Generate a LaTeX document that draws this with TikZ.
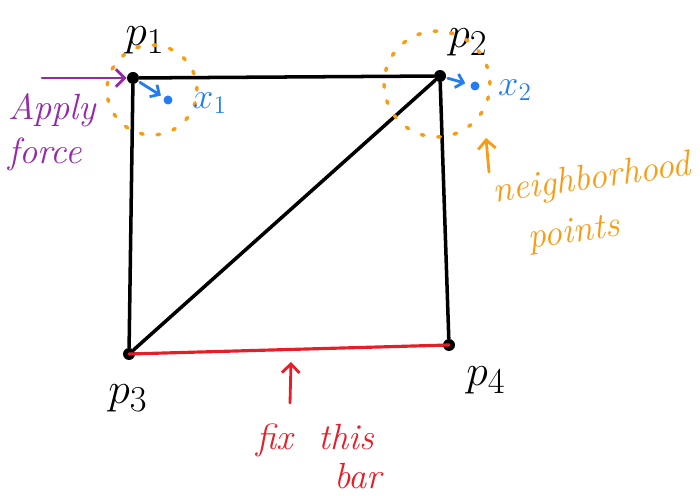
\documentclass[tikz,border=0pt]{standalone}
\usetikzlibrary{arrows.meta,positioning}
\definecolor{penBlue}{RGB}{35, 125, 240}
\definecolor{penOrange}{RGB}{250, 155, 20}
\definecolor{penPurple}{RGB}{150, 40, 170}
\definecolor{penRed}{RGB}{230, 30, 40}

\begin{document}
\begin{tikzpicture}[x=0.02cm, y=-0.02cm, line cap=round, line join=round,
    joint/.style={circle, fill=black, inner sep=0pt, minimum size=0.24cm},
    target/.style={circle, fill=penBlue, inner sep=0pt, minimum size=0.18cm},
    nbhd/.style={circle, draw=penOrange, line width=2pt, dash pattern=on 1.5pt off 8pt, inner sep=0pt},
    bar/.style={black, line width=2pt},
    note/.style={font=\huge\itshape, inner sep=1pt}]
    \useasboundingbox (0,0) rectangle (700,496);
    % the four joints
    \node[joint] (p1) at (133,78) {};
    \node[joint] (p2) at (440,76) {};
    \node[joint] (p3) at (129,354) {};
    \node[joint] (p4) at (449,345) {};
    \node[font=\Huge] (p1lab) at (145,40) {$p_1$};
    \node[font=\Huge] (p2lab) at (468,42) {$p_2$};
    \node[font=\Huge] (p3lab) at (128,398) {$p_3$};
    \node[font=\Huge] (p4lab) at (486,380) {$p_4$};
    % bars
    \draw[bar] (p1) -- (p2);
    \draw[bar] (p1) -- (p3);
    \draw[bar] (p2) -- (p4);
    \draw[bar] (p3) -- (p2);
    \draw[penRed, line width=1.8pt] (p3.center) -- (p4.center);
    % neighbourhoods
    \node[nbhd, minimum size=1.8cm] (n1) at (152,90) {};
    \node[nbhd, minimum size=2.12cm] (n2) at (437,84) {};
    \node[target] (x1) at (168,100) {};
    \node[target] (x2) at (475,86) {};
    \node[penBlue, font=\huge] (x1lab) at (210,103) {$x_1$};
    \node[penBlue, font=\huge] (x2lab) at (515,90) {$x_2$};
    \draw[penBlue, line width=1.6pt, -{Straight Barb[length=4pt]}, shorten <=1pt, shorten >=2pt] (p1) -- (x1);
    \draw[penBlue, line width=1.6pt, -{Straight Barb[length=4pt]}, shorten <=1pt, shorten >=3pt] (p2) -- (x2);
    % applied force
    \coordinate (pushFrom) at (42,78);
    \draw[penPurple, line width=1.6pt, -{Straight Barb[length=5pt]}] (pushFrom) -- (p1);
    \node[note, penPurple, align=left, anchor=west] (force) at (6,132) {Apply\\force};
    % neighbourhood note
    \node[note, penOrange, rotate=8] (nbText) at (592,180) {neighborhood};
    \node[note, penOrange, rotate=8] (ptText) at (574,234) {points};
    \coordinate (nbTail) at (489,172);
    \coordinate (nbTip) at (486,138);
    \draw[penOrange, line width=1.6pt, -{Straight Barb[length=5pt]}] (nbTail) -- (nbTip);
    % fixed bar note
    \node[note, penRed] (fixText) at (315,440) {fix~~this};
    \node[note, penRed] (barText) at (358,476) {bar};
    \coordinate (fixTail) at (290,403);
    \coordinate (fixTip) at (291,362);
    \draw[penRed, line width=1.6pt, -{Straight Barb[length=5pt]}] (fixTail) -- (fixTip);
\end{tikzpicture}
\end{document}
